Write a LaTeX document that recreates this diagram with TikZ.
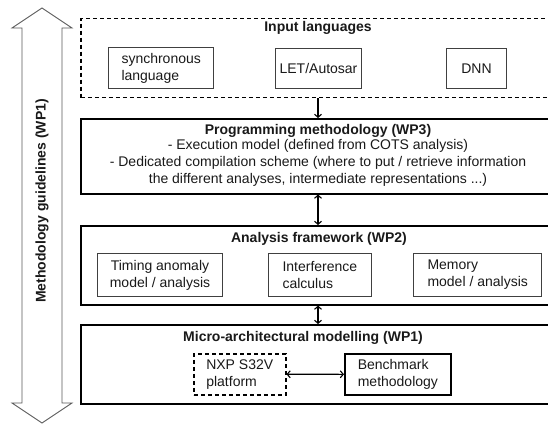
\documentclass[tikz,border=0pt]{standalone}
\usepackage{fontspec}
\setmainfont{Liberation Sans}
\usetikzlibrary{arrows.meta}
\begin{document}
\begin{tikzpicture}[x=1pt,y=-1pt,
  every node/.style={font=\fontsize{14}{17}\selectfont,text=black!90},
  layer/.style={draw,line width=1.6pt,inner sep=0},
  inbox/.style={draw=black!75,line width=1pt,align=left,font=\fontsize{14}{17}\selectfont,anchor=north west},
  title/.style={font=\fontsize{14}{17}\selectfont\bfseries},
  dbox/.style={draw,line width=1.5pt,dash pattern=on 4pt off 3pt},
  conn/.style={line width=1.1pt,{Straight Barb[length=3pt,width=7pt]}-{Straight Barb[length=3pt,width=7pt]}},
  conn1/.style={line width=1.1pt,-{Straight Barb[length=3pt,width=7pt]}}]
\useasboundingbox (0,0) rectangle (548,425);
\clip (0,0) rectangle (548,425);
% big double arrow
\draw[line width=0.9pt,draw=black!65] (22,28) -- (12,28) -- (42,8) -- (72,28) -- (62,28) -- (62,403) -- (72,403) -- (42,423) -- (12,403) -- (22,403) -- cycle;
\node[rotate=90,title] (guide) at (42,201) {Methodology guidelines (WP1)};
% Input languages
\node[dbox,minimum width=476,minimum height=79,anchor=north west,inner sep=0] (input) at (80,18) {};
\node[title] (inputt) at (318,28) {Input languages};
\node[inbox,minimum width=104,minimum height=41,inner xsep=13pt] (sync) at (108,47) {synchronous\\language};
\node[inbox,minimum width=86,minimum height=40,align=center,inner xsep=2pt] (let) at (275,48) {LET/Autosar};
\node[inbox,minimum width=60,minimum height=40,align=center] (dnn) at (446,48) {DNN};
% Programming
\node[layer,minimum width=476,minimum height=75,anchor=north west] (prog) at (80,118) {};
\node[title] (progt) at (318,131) {Programming methodology (WP3)};
\node[align=center,font=\fontsize{14}{16.7}\selectfont] (progtext) at (318,163) {- Execution model (defined from COTS analysis)\\- Dedicated compilation scheme (where to put / retrieve information\\the different analyses, intermediate representations ...)};
% Analysis
\node[layer,minimum width=476,minimum height=79,anchor=north west] (ana) at (80,225) {};
\node[title] (anat) at (319,239) {Analysis framework (WP2)};
\node[inbox,minimum width=125,minimum height=43,align=center] (timing) at (97,253) {Timing anomaly\\model / analysis};
\node[inbox,minimum width=100,minimum height=43,inner xsep=14pt] (interf) at (268,253) {Interference\\calculus};
\node[inbox,minimum width=125,minimum height=43,inner xsep=14pt] (mem) at (413,253) {Memory\\model / analysis};
% Micro
\node[layer,minimum width=476,minimum height=79,anchor=north west] (micro) at (80,324) {};
\node[title] (microt) at (303,338) {Micro-architectural modelling (WP1)};
\node[dbox,minimum width=92,minimum height=41,anchor=north west,align=left,inner xsep=10pt] (nxp) at (193,353) {NXP S32V\\platform};
\node[draw,line width=1.6pt,minimum width=106,minimum height=41,anchor=north west,align=left,inner xsep=13pt] (bench) at (344,353) {Benchmark\\methodology};
% connectors
\coordinate (ax) at (318,0);
\draw[conn1] (input.south -| ax) -- (prog.north -| ax);
\draw[conn] (prog.south -| ax) -- (ana.north -| ax);
\draw[conn] (ana.south -| ax) -- (micro.north -| ax);
\draw[conn] (nxp.east) -- (bench.west);
\end{tikzpicture}
\end{document}
